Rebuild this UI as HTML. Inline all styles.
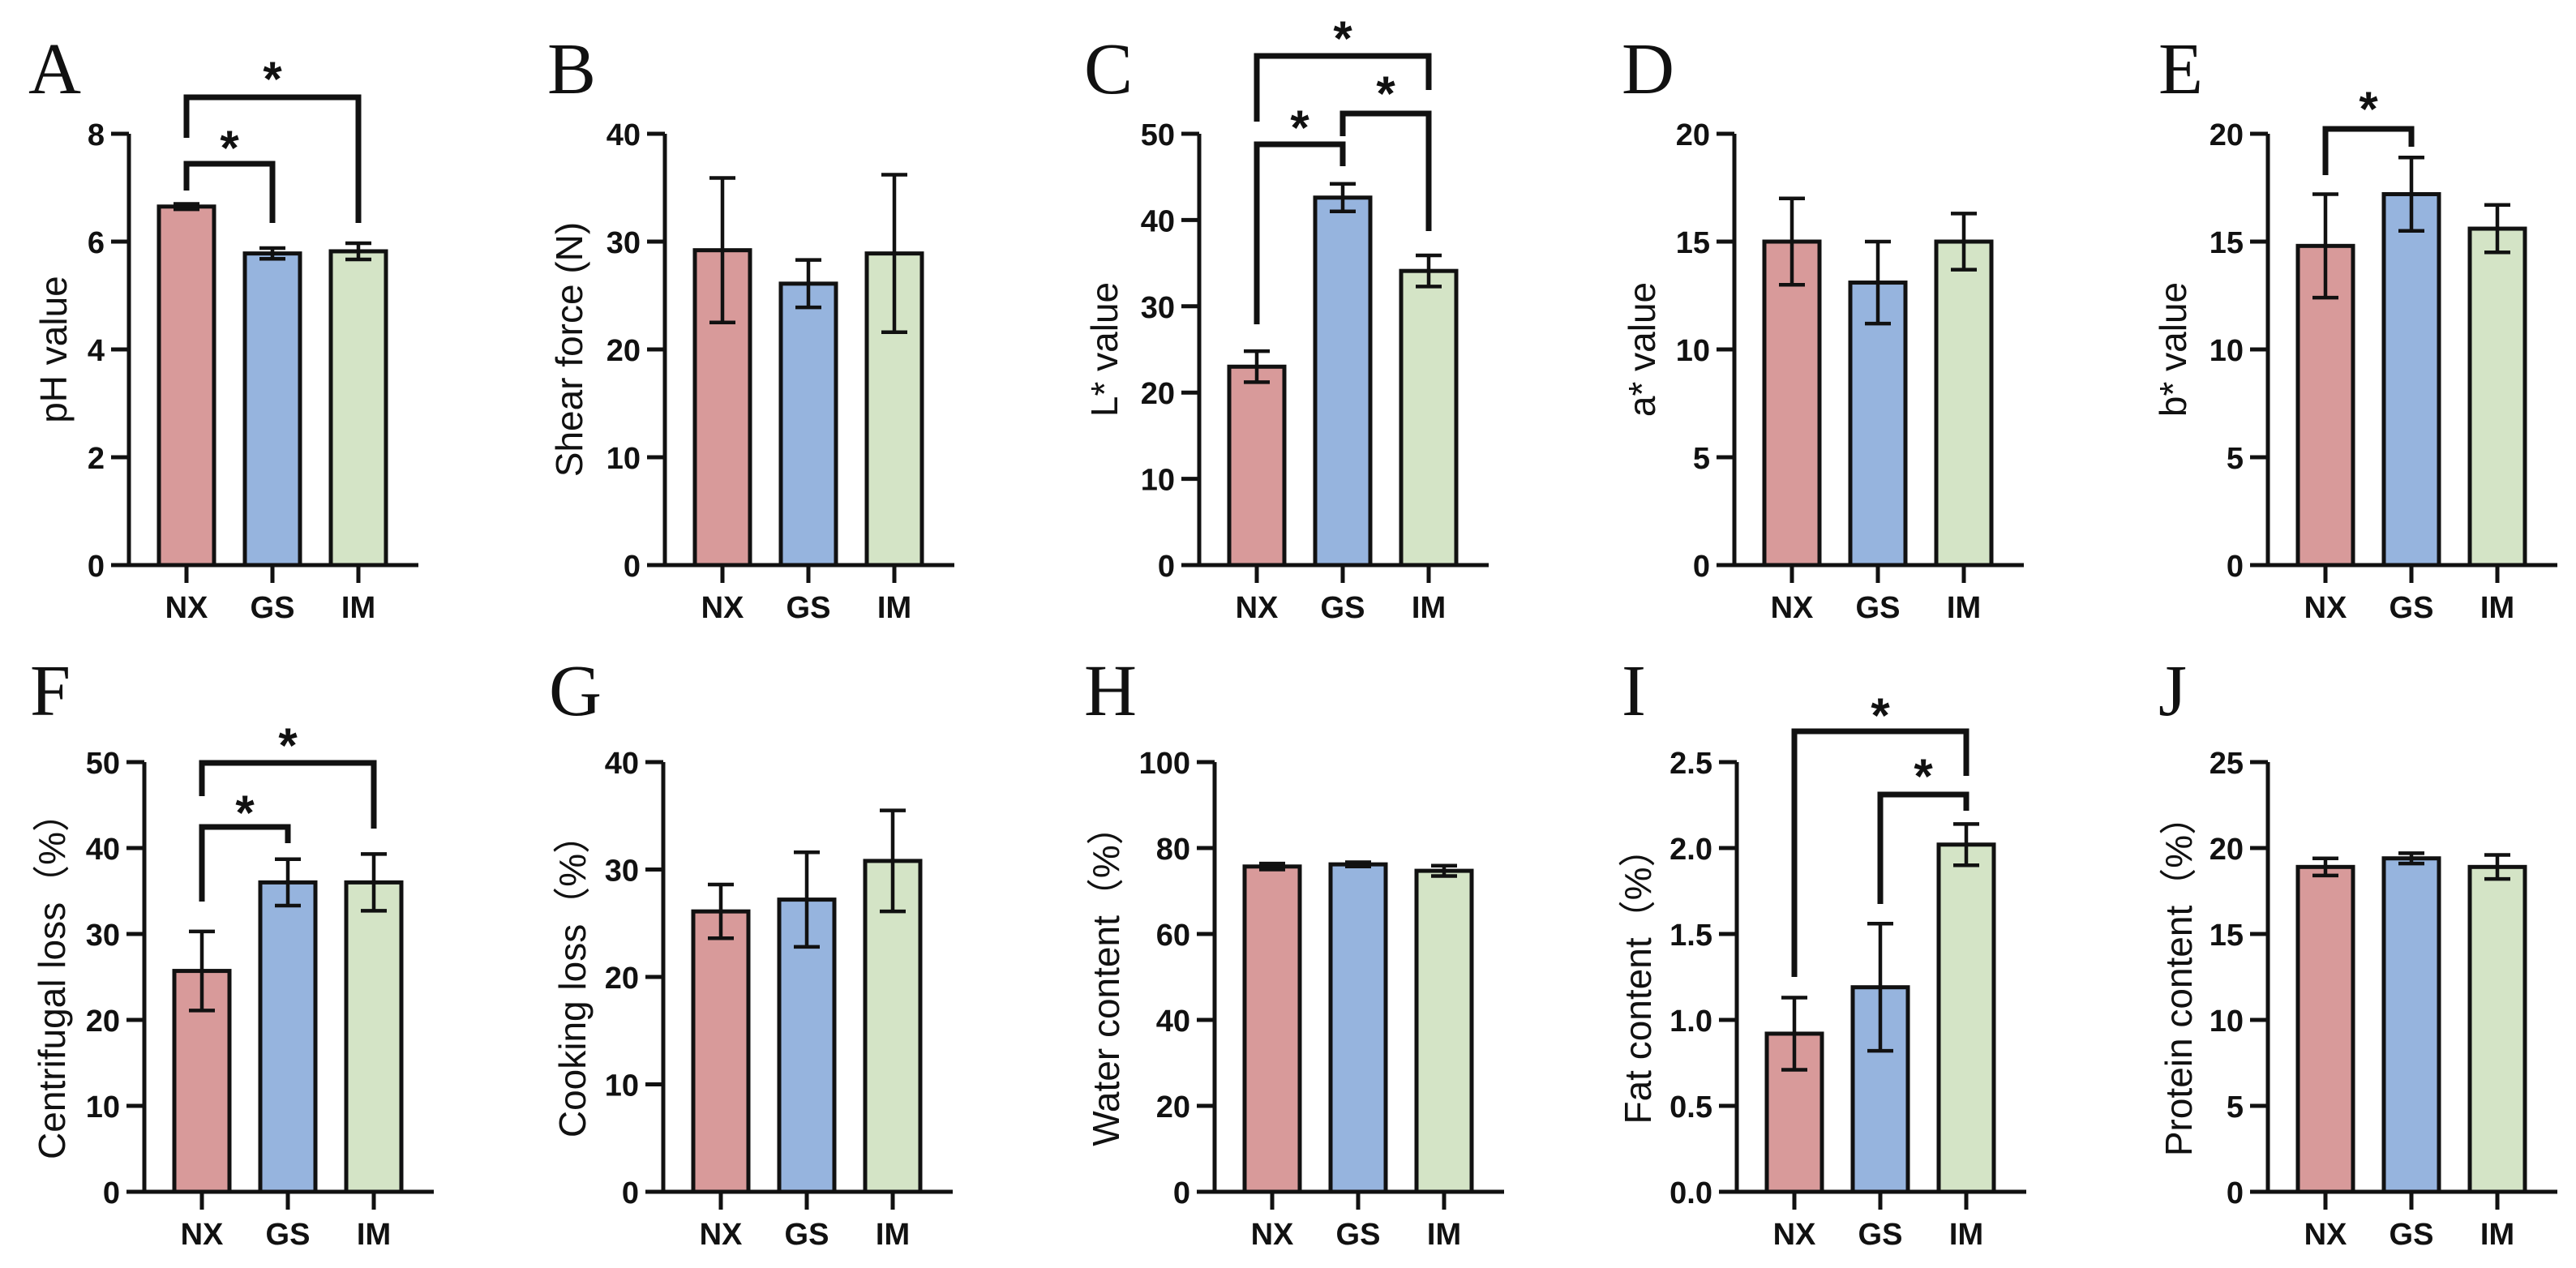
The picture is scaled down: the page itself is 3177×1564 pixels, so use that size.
<!DOCTYPE html>
<html><head><meta charset="utf-8"><style>
html,body{margin:0;padding:0;background:#fff;}
svg{display:block;}
</style></head><body>
<svg id="fig" width="3177" height="1564" viewBox="0 0 3177 1564" xmlns="http://www.w3.org/2000/svg"></svg>
<script>
const categories = ["NX", "GS", "IM"];
const colors = ["#d89a9a", "#96b4de", "#d4e4c6"];
const phValues = [6.65, 5.78, 5.82];      const phErr = [0.05, 0.1, 0.15];
const shearValues = [29.2, 26.1, 28.9];   const shearErr = [6.7, 2.2, 7.3];
const lValues = [23.0, 42.6, 34.1];       const lErr = [1.8, 1.6, 1.8];
const aValues = [15.0, 13.1, 15.0];       const aErr = [2.0, 1.9, 1.3];
const bValues = [14.8, 17.2, 15.6];       const bErr = [2.4, 1.7, 1.1];
const centValues = [25.7, 36.0, 36.0];    const centErr = [4.6, 2.7, 3.3];
const cookValues = [26.1, 27.2, 30.8];    const cookErr = [2.5, 4.4, 4.7];
const waterValues = [75.7, 76.2, 74.7];   const waterErr = [0.7, 0.5, 1.2];
const fatValues = [0.92, 1.19, 2.02];     const fatErr = [0.21, 0.37, 0.12];
const proteinValues = [18.9, 19.4, 18.9]; const proteinErr = [0.5, 0.3, 0.7];
const phTicks = ["0","2","4","6","8"];
const shearTicks = ["0","10","20","30","40"];
const lTicks = ["0","10","20","30","40","50"];
const aTicks = ["0","5","10","15","20"];
const bTicks = ["0","5","10","15","20"];
const centTicks = ["0","10","20","30","40","50"];
const cookTicks = ["0","10","20","30","40"];
const waterTicks = ["0","20","40","60","80","100"];
const fatTicks = ["0.0","0.5","1.0","1.5","2.0","2.5"];
const proteinTicks = ["0","5","10","15","20","25"];

const NS = "http://www.w3.org/2000/svg";
const svg = document.getElementById("fig");
function mk(tag, attrs, parent) {
  const e = document.createElementNS(NS, tag);
  for (const k in attrs) e.setAttribute(k, attrs[k]);
  (parent || svg).appendChild(e);
  return e;
}
const panels = [
  {key:"a", letter:"A", lx:35, ax:159, row:0, vals:phValues, errs:phErr, ticks:phTicks, title:"pH value", tdx:-93,
   br:[[0,1,202,235,275,170],[0,2,120,170,275,85]]},
  {key:"b", letter:"B", lx:675, ax:820, row:0, vals:shearValues, errs:shearErr, ticks:shearTicks, title:"Shear force (N)", tdx:-118, br:[]},
  {key:"c", letter:"C", lx:1337, ax:1479, row:0, vals:lValues, errs:lErr, ticks:lTicks, title:"L* value", tdx:-117,
   br:[[0,1,178,400,205,145],[1,2,140,168,285,103],[0,2,69,150,111,35]]},
  {key:"d", letter:"D", lx:2000, ax:2139, row:0, vals:aValues, errs:aErr, ticks:aTicks, title:"a* value", tdx:-114, br:[]},
  {key:"e", letter:"E", lx:2662, ax:2797, row:0, vals:bValues, errs:bErr, ticks:bTicks, title:"b* value", tdx:-117,
   br:[[0,1,159,216,181,122]]},
  {key:"f", letter:"F", lx:37, ax:178, row:1, vals:centValues, errs:centErr, ticks:centTicks, title:"Centrifugal loss（%）", tdx:-114,
   br:[[0,1,1020,1112,1040,990],[0,2,941,982,1022,907]]},
  {key:"g", letter:"G", lx:677, ax:818, row:1, vals:cookValues, errs:cookErr, ticks:cookTicks, title:"Cooking loss（%）", tdx:-112, br:[]},
  {key:"h", letter:"H", lx:1337, ax:1498, row:1, vals:waterValues, errs:waterErr, ticks:waterTicks, title:"Water content（%）", tdx:-134, br:[]},
  {key:"i", letter:"I", lx:2000, ax:2142, row:1, vals:fatValues, errs:fatErr, ticks:fatTicks, title:"Fat content（%）", tdx:-122,
   br:[[1,2,980,1115,1000,945],[0,2,902,1205,957,870]]},
  {key:"j", letter:"J", lx:2662, ax:2797, row:1, vals:proteinValues, errs:proteinErr, ticks:proteinTicks, title:"Protein content（%）", tdx:-110, br:[]}
];
const rows = [{y0:697, yTop:165, letterY:115}, {y0:1470, yTop:940, letterY:882}];
const FONT = '"Liberation Sans", "Noto Sans CJK SC", sans-serif';

panels.forEach(p => {
  const r = rows[p.row];
  const g = mk("g", {});
  
  
  const tmax = parseFloat(p.ticks[p.ticks.length-1]);
  const ys = v => r.y0 - (v / tmax) * (r.y0 - r.yTop);
  const xc = i => p.ax + 71 + i * 106;

  const lt = mk("text", {x:p.lx, y:r.letterY, "font-family":'"Liberation Serif", serif', "font-size":90, fill:"#111"}, g);
  lt.textContent = p.letter;
  
  

  p.vals.forEach((v, i) => {
    const rect = mk("rect", {x:xc(i)-34, y:ys(v), width:68, height:r.y0-ys(v), fill:colors[i], stroke:"#111", "stroke-width":5}, g);
    
    
    const e = p.errs[i];
    const eg = mk("g", {stroke:"#111", "stroke-width":4.5, fill:"none"}, g);
    
    
    mk("line", {x1:xc(i), x2:xc(i), y1:ys(v+e), y2:ys(v-e)}, eg);
    mk("line", {x1:xc(i)-16, x2:xc(i)+16, y1:ys(v+e), y2:ys(v+e)}, eg);
    mk("line", {x1:xc(i)-16, x2:xc(i)+16, y1:ys(v-e), y2:ys(v-e)}, eg);
  });

  const axg = mk("g", {stroke:"#111", "stroke-width":5, fill:"none"}, g);
  
  
  mk("line", {x1:p.ax, x2:p.ax, y1:r.y0, y2:r.yTop}, axg);
  mk("line", {x1:p.ax-22, x2:p.ax+357, y1:r.y0, y2:r.y0}, axg);
  p.ticks.forEach(t => {
    const y = ys(parseFloat(t));
    mk("line", {x1:p.ax-22, x2:p.ax, y1:y, y2:y}, axg);
    const tx = mk("text", {x:p.ax-30, y:y+14, "text-anchor":"end", "font-family":FONT, "font-weight":"bold", "font-size":38, fill:"#111"}, g);
    tx.textContent = t;
    
    
  });
  categories.forEach((c, i) => {
    mk("line", {x1:xc(i), x2:xc(i), y1:r.y0, y2:r.y0+22}, axg);
    const tx = mk("text", {x:xc(i), y:r.y0+65, "text-anchor":"middle", "font-family":FONT, "font-weight":"bold", "font-size":38, fill:"#111"}, g);
    tx.textContent = c;
    
    
  });
  const cy = (r.y0 + r.yTop) / 2, tx0 = p.ax + p.tdx;
  const tt = mk("text", {x:tx0, y:cy, "text-anchor":"middle", "dominant-baseline":"central", transform:`rotate(-90 ${tx0} ${cy})`, "font-family":FONT, "font-size":46, fill:"#111"}, g);
  tt.textContent = p.title;
  
  

  p.br.forEach(b => {
    const bg = mk("g", {}, g);
    
    
    const x1 = xc(b[0]), x2 = xc(b[1]);
    mk("polyline", {points:`${x1},${b[3]} ${x1},${b[2]} ${x2},${b[2]} ${x2},${b[4]}`, fill:"none", stroke:"#111", "stroke-width":7, "stroke-linejoin":"miter"}, bg);
    const st = mk("text", {x:(x1+x2)/2, y:b[5]+33, "text-anchor":"middle", "font-family":FONT, "font-weight":"bold", "font-size":60, fill:"#111"}, bg);
    st.textContent = "*";
  });
});
</script>
</body></html>
